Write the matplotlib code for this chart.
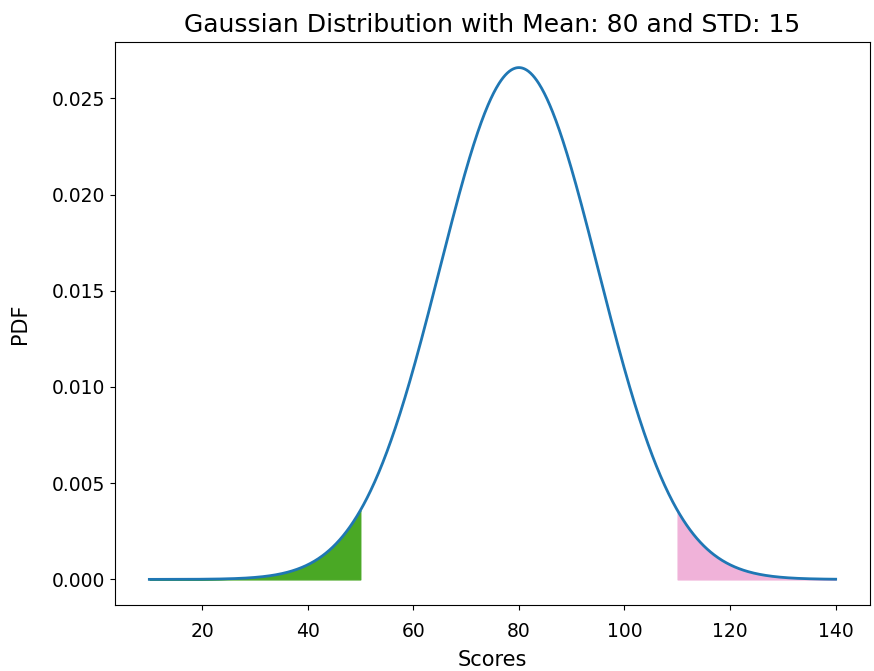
import numpy as np
import matplotlib.pyplot as plt

# distribution parameters shown in the title
mean = 80
std = 15
x_range = [10, 140]
low_cut = 50      # left shaded tail ends here
high_cut = 110    # right shaded tail starts here

x = np.linspace(x_range[0], x_range[1], 1000)
pdf = np.exp(-0.5 * ((x - mean) / std) ** 2) / (std * np.sqrt(2 * np.pi))

plt.rcParams['font.size'] = 13.5
fig = plt.figure(figsize=(8.74, 6.71), dpi=100)
ax = fig.add_axes([0.1316, 0.0984, 0.8638, 0.839])

ax.plot(x, pdf, color='#1f77b4', linewidth=2)
ax.fill_between(x, pdf, where=x <= low_cut, color='#4aa825')
ax.fill_between(x, pdf, where=x >= high_cut, color='#f0b2d9')

ax.set_title('Gaussian Distribution with Mean: 80 and STD: 15', fontsize=18, pad=7)
ax.set_xlabel('Scores', fontsize=15, labelpad=6)
ax.set_ylabel('PDF', fontsize=15, labelpad=16)
ax.tick_params(axis='x', pad=9)

fig.savefig('out.png')
